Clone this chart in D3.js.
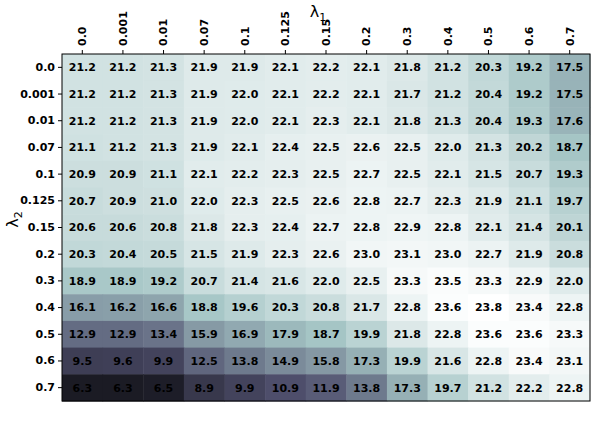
<!DOCTYPE html>
<html><head><meta charset="utf-8">
<script src="https://cdn.jsdelivr.net/npm/d3@7"></script>
<style>body{margin:0;background:#fff}text{font-family:"DejaVu Sans",sans-serif}</style>
</head><body><svg id="chart" width="596" height="438"></svg>
<script>
var lambda1 = ["0.0","0.001","0.01","0.07","0.1","0.125","0.15","0.2","0.3","0.4","0.5","0.6","0.7"];
var lambda2 = ["0.0","0.001","0.01","0.07","0.1","0.125","0.15","0.2","0.3","0.4","0.5","0.6","0.7"];
var values = [
  [21.2,21.2,21.3,21.9,21.9,22.1,22.2,22.1,21.8,21.2,20.3,19.2,17.5],
  [21.2,21.2,21.3,21.9,22.0,22.1,22.2,22.1,21.7,21.2,20.4,19.2,17.5],
  [21.2,21.2,21.3,21.9,22.0,22.1,22.3,22.1,21.8,21.3,20.4,19.3,17.6],
  [21.1,21.2,21.3,21.9,22.1,22.4,22.5,22.6,22.5,22.0,21.3,20.2,18.7],
  [20.9,20.9,21.1,22.1,22.2,22.3,22.5,22.7,22.5,22.1,21.5,20.7,19.3],
  [20.7,20.9,21.0,22.0,22.3,22.5,22.6,22.8,22.7,22.3,21.9,21.1,19.7],
  [20.6,20.6,20.8,21.8,22.3,22.4,22.7,22.8,22.9,22.8,22.1,21.4,20.1],
  [20.3,20.4,20.5,21.5,21.9,22.3,22.6,23.0,23.1,23.0,22.7,21.9,20.8],
  [18.9,18.9,19.2,20.7,21.4,21.6,22.0,22.5,23.3,23.5,23.3,22.9,22.0],
  [16.1,16.2,16.6,18.8,19.6,20.3,20.8,21.7,22.8,23.6,23.8,23.4,22.8],
  [12.9,12.9,13.4,15.9,16.9,17.9,18.7,19.9,21.8,22.8,23.6,23.6,23.3],
  [9.5,9.6,9.9,12.5,13.8,14.9,15.8,17.3,19.9,21.6,22.8,23.4,23.1],
  [6.3,6.3,6.5,8.9,9.9,10.9,11.9,13.8,17.3,19.7,21.2,22.2,22.8]
];

(function() {
var svg = d3.select("#chart");
var left = 62, right = 590, top = 54, bottom = 401;
var x = d3.scaleBand().domain(lambda1).range([left, right]);
var y = d3.scaleBand().domain(lambda2).range([top, bottom]);

// matplotlib "bone" colormap
var bone = d3.scaleLinear()
  .domain([0, 0.365, 0.746, 1])
  .range(["#000000", "#51516f", "#a6c6c6", "#ffffff"]);
var norm = d3.scaleLinear().domain([6.3, 23.8]).range([0.12, 1]);

var cells = [];
values.forEach(function(row, i) {
  row.forEach(function(v, j) { cells.push({r: lambda2[i], c: lambda1[j], v: v}); });
});

svg.selectAll("rect.cell").data(cells).enter().append("rect")
  .attr("x", function(d) { return x(d.c); })
  .attr("y", function(d) { return y(d.r); })
  .attr("width", x.bandwidth() + 0.5)
  .attr("height", y.bandwidth() + 0.5)
  .attr("fill", function(d) { return bone(norm(d.v)); });

svg.selectAll("text.val").data(cells).enter().append("text")
  .attr("x", function(d) { return x(d.c) + x.bandwidth() / 2; })
  .attr("y", function(d) { return y(d.r) + y.bandwidth() / 2; })
  .attr("text-anchor", "middle").attr("dy", "0.35em")
  .attr("font-size", 11).attr("font-weight", "bold")
  .text(function(d) { return d.v.toFixed(1); });

// axes
var xAxis = svg.append("g").attr("transform", "translate(0," + top + ")")
  .call(d3.axisTop(x).tickSize(4).tickSizeOuter(0));
xAxis.selectAll("text")
  .attr("font-size", 11).attr("font-weight", "bold")
  .attr("transform", "rotate(-90)").attr("text-anchor", "start")
  .attr("x", 8).attr("y", 0).attr("dy", "0.35em");

var yAxis = svg.append("g").attr("transform", "translate(" + left + ",0)")
  .call(d3.axisLeft(y).tickSize(4).tickSizeOuter(0));
yAxis.selectAll("text").attr("font-size", 11).attr("font-weight", "bold");
svg.selectAll(".domain").remove();
svg.append("rect").attr("x", left).attr("y", top)
  .attr("width", right - left).attr("height", bottom - top)
  .attr("fill", "none").attr("stroke", "#000");

svg.append("text").attr("x", (left + right) / 2 - 8).attr("y", 17)
  .attr("text-anchor", "middle").attr("font-size", 16)
  .attr("font-family", "DejaVu Serif").html("λ<tspan font-size='11' dy='4'>1</tspan>");
svg.append("text").attr("transform", "translate(18," + ((top + bottom) / 2 - 8) + ") rotate(-90)")
  .attr("text-anchor", "middle").attr("font-size", 16)
  .attr("font-family", "DejaVu Serif").html("λ<tspan font-size='11' dy='4'>2</tspan>");
})();
</script></body></html>
